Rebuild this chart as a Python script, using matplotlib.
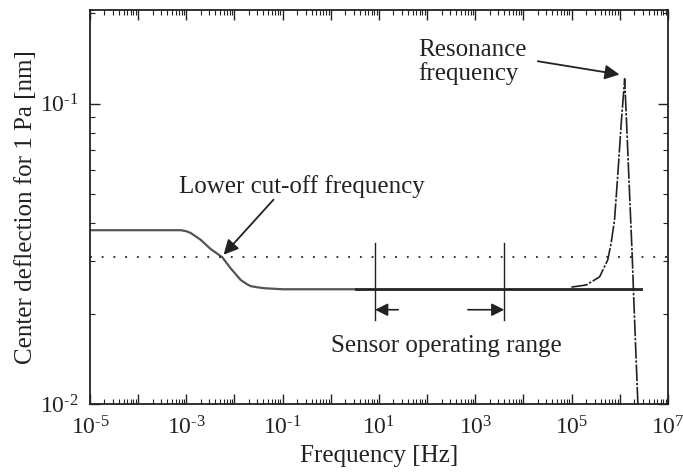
import numpy as np
import matplotlib
matplotlib.use('Agg')
import matplotlib.pyplot as plt
from matplotlib.ticker import FixedLocator, LogLocator, NullFormatter

plt.rcParams['font.family'] = ['Liberation Serif', 'DejaVu Serif']
plt.rcParams['mathtext.fontset'] = 'custom'
plt.rcParams['mathtext.rm'] = 'Liberation Serif'
plt.rcParams['mathtext.it'] = 'Liberation Serif:italic'

# data
# response of the membrane below the sensor range (grey curve)
low_freq = [1e-5, 1e-4, 7.7e-4, 1.0e-3, 1.23e-3, 1.58e-3, 1.99e-3, 3.2e-3,
            5.58e-3, 8.3e-3, 1.34e-2, 1.78e-2, 2.15e-2, 2.8e-2, 4.06e-2,
            0.1, 1.0, 3.3]
low_defl = [0.0379, 0.0379, 0.0379, 0.0376, 0.0371, 0.0361, 0.0352, 0.0328,
            0.0308, 0.0283, 0.0259, 0.0251, 0.0247, 0.0245, 0.0243,
            0.0241, 0.0241, 0.0241]

# flat part (black)
flat_freq = [3.3, 2.75e6]
flat_defl = [0.0241, 0.0241]

# resonance peak
res_freq = [9.86e4, 2.0e5, 3.8e5, 5.62e5, 6.61e5, 7.76e5, 9.12e5, 1.07e6,
            1.26e6, 1.40e6, 1.58e6, 1.81e6, 1.95e6, 2.4e6]
res_defl = [0.0245, 0.0249, 0.0265, 0.0302, 0.0344, 0.0410, 0.0587, 0.0863,
            0.121, 0.0818, 0.0516, 0.0310, 0.0222, 0.0095]

cutoff_level = 0.0308
range_limits = [8.3, 4000.0]

x_exps = list(range(-5, 8))
x_labels = [r'$10^{\text{%d}}$' % e if e % 2 else '' for e in x_exps]
y_ticks = [1e-2, 1e-1]
y_labels = [r'$10^{\text{-2}}$', r'$10^{\text{-1}}$']

fig = plt.figure(figsize=(6.83, 4.76), dpi=100)
ax = fig.add_axes([90/683, 1-404/476, 578/683, 394/476])
ax.set_xscale('log')
ax.set_yscale('log')
ax.set_xlim(1e-5, 1e7)
ax.set_ylim(0.01, 0.205)

ax.plot(low_freq, low_defl, color='#555555', lw=1.6)
ax.plot(flat_freq, flat_defl, color='#222222', lw=2.0)
ax.plot(res_freq, res_defl, color='#222222', lw=1.2,
        linestyle=(0, (10, 1, 1.5, 1)))
ax.axhline(cutoff_level, color='#222222', lw=1.3, linestyle=(0, (1, 5.5)))

# operating range markers
for f in range_limits:
    ax.plot([f, f], [0.0191, 0.0344], color='#222222', lw=1.0)
ax.annotate('', xy=(range_limits[0], 0.0206), xytext=(25, 0.0206),
            arrowprops=dict(arrowstyle='-|>', color='#222222', lw=1.2,
                            mutation_scale=19, shrinkA=0, shrinkB=0))
ax.annotate('', xy=(range_limits[1], 0.0206), xytext=(700, 0.0206),
            arrowprops=dict(arrowstyle='-|>', color='#222222', lw=1.2,
                            mutation_scale=19, shrinkA=0, shrinkB=0))

ax.annotate('', xy=(5.94e-3, 0.0314), xytext=(0.0646, 0.0479),
            arrowprops=dict(arrowstyle='-|>', color='#222222', lw=1.3,
                            mutation_scale=22, shrinkA=0, shrinkB=0))
ax.annotate('', xy=(9.86e5, 0.125), xytext=(1.98e4, 0.1384),
            arrowprops=dict(arrowstyle='-|>', color='#222222', lw=1.3,
                            mutation_scale=22, shrinkA=0, shrinkB=0))

ax.text(7.06e-4, 0.0506, 'Lower cut-off frequency', fontsize=18,
        color='#222222', ha='left', va='baseline')
ax.text(65.8, 0.1445, 'Resonance', fontsize=18, color='#222222',
        ha='left', va='baseline')
ax.text(65.8, 0.120, 'frequency', fontsize=18, color='#222222',
        ha='left', va='baseline')
ax.text(1.02, 0.0149, 'Sensor operating range', fontsize=18,
        color='#222222', ha='left', va='baseline')

ax.xaxis.set_major_locator(FixedLocator([10.0**e for e in x_exps]))
ax.set_xticklabels(x_labels)
ax.xaxis.set_minor_locator(LogLocator(base=10, subs=np.arange(2, 10), numticks=200))
ax.xaxis.set_minor_formatter(NullFormatter())
ax.yaxis.set_major_locator(FixedLocator(y_ticks))
ax.set_yticklabels(y_labels)
ax.yaxis.set_minor_locator(LogLocator(base=10, subs=np.arange(2, 10), numticks=200))
ax.yaxis.set_minor_formatter(NullFormatter())

ax.tick_params(which='both', direction='in', top=True, right=True,
               color='#222222', labelsize=17, labelcolor='#222222')
ax.tick_params(which='major', length=7, width=1.0)
ax.tick_params(which='minor', length=3.5, width=0.8)
ax.tick_params(axis='x', pad=9)
ax.tick_params(axis='y', pad=8)
for s in ax.spines.values():
    s.set_linewidth(1.3)
    s.set_color('#222222')

ax.set_xlabel('Frequency [Hz]', fontsize=18, color='#222222', labelpad=4)
ax.set_ylabel('Center deflection for 1 Pa [nm]', fontsize=18,
              color='#222222', labelpad=2)

fig.savefig('out.png', dpi=100)
